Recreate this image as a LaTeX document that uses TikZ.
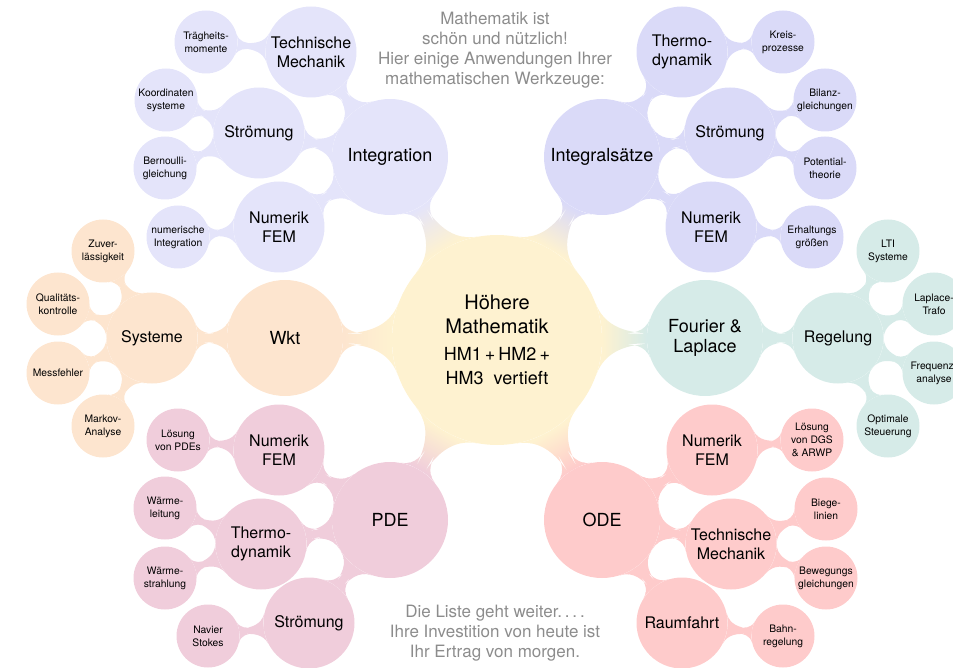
\documentclass[tikz,border=0pt]{standalone}
\usepackage{fontspec}
\setmainfont{TeX Gyre Heros}
\usepackage{tikz}
\usetikzlibrary{mindmap,backgrounds}

\definecolor{hmyellow}{RGB}{254,242,208}
\definecolor{intblue}{RGB}{228,228,250}
\definecolor{satzblue}{RGB}{218,218,248}
\definecolor{wktorange}{RGB}{253,229,207}
\definecolor{regteal}{RGB}{214,235,232}
\definecolor{pdepink}{RGB}{240,205,219}
\definecolor{odered}{RGB}{254,203,203}
\definecolor{notegray}{RGB}{140,140,140}

\tikzset{
  rootnode/.style={circle,fill=hmyellow,minimum size=210pt,inner sep=0pt,align=center,font=\fontsize{20}{24}\selectfont},
  topic/.style={circle,minimum size=116pt,inner sep=0pt,align=center,font=\fontsize{18}{20}\selectfont},
  subtopic/.style={circle,minimum size=91pt,inner sep=0pt,align=center,font=\fontsize{16}{19}\selectfont},
  leaf/.style={circle,minimum size=63pt,inner sep=0pt,align=center,font=\fontsize{10.3}{13}\selectfont},
  note/.style={text=notegray,align=center,font=\fontsize{17}{20}\selectfont},
  link/.style 2 args={circle connection bar switch color=from (#1) to (#2)}
}

\begin{document}
\begin{tikzpicture}[x=1pt,y=-1pt]
\useasboundingbox (0,0) rectangle (953,668);

% Mitte
\node[rootnode] (hm) at (497,340) {Höhere\\Mathematik\\[3pt]\fontsize{18}{20}\selectfont HM1\,+\,HM2\,+\\\fontsize{18}{20}\selectfont HM3\ \ vertieft};

% Hauptthemen
\node[topic,fill=intblue] (integ) at (390,157) {Integration};
\node[topic,fill=satzblue] (satz) at (602,157) {Integralsätze};
\node[topic,fill=wktorange] (wkt) at (285,338) {Wkt};
\node[topic,fill=regteal] (fourier) at (705,338) {Fourier \&\\Laplace};
\node[topic,fill=pdepink] (pde) at (390,520) {PDE};
\node[topic,fill=odered] (ode) at (602,520) {ODE};

% Integration
\node[subtopic,fill=intblue] (techmecha) at (311,52) {Technische\\Mechanik};
\node[subtopic,fill=intblue] (stroema) at (259,133) {Strömung};
\node[subtopic,fill=intblue] (numfema) at (279,227) {Numerik\\FEM};
\node[leaf,fill=intblue] (traeg) at (206,42) {Trägheits-\\momente};
\node[leaf,fill=intblue] (koord) at (166,100) {Koordinaten\\systeme};
\node[leaf,fill=intblue] (bern) at (165,168) {Bernoulli-\\gleichung};
\node[leaf,fill=intblue] (numint) at (178,237) {numerische\\Integration};

% Integralsaetze
\node[subtopic,fill=satzblue] (thermob) at (682,52) {Thermo-\\dynamik};
\node[subtopic,fill=satzblue] (stroemb) at (730,133) {Strömung};
\node[subtopic,fill=satzblue] (numfemb) at (711,227) {Numerik\\FEM};
\node[leaf,fill=satzblue] (kreis) at (783,42) {Kreis-\\prozesse};
\node[leaf,fill=satzblue] (bilanz) at (825,100) {Bilanz-\\gleichungen};
\node[leaf,fill=satzblue] (potential) at (825,168) {Potential-\\theorie};
\node[leaf,fill=satzblue] (erhalt) at (812,237) {Erhaltungs\\größen};

% Wkt
\node[subtopic,fill=wktorange] (systeme) at (152,338) {Systeme};
\node[leaf,fill=wktorange] (zuver) at (103,251) {Zuver-\\lässigkeit};
\node[leaf,fill=wktorange] (quali) at (58,304) {Qualitäts-\\kontrolle};
\node[leaf,fill=wktorange] (mess) at (58,373) {Messfehler};
\node[leaf,fill=wktorange] (markov) at (103,426) {Markov-\\Analyse};

% Fourier und Laplace
\node[subtopic,fill=regteal] (regel) at (838,338) {Regelung};
\node[leaf,fill=regteal] (lti) at (888,251) {LTI\\Systeme};
\node[leaf,fill=regteal] (lapl) at (934,304) {Laplace-\\Trafo};
\node[leaf,fill=regteal] (freq) at (934,373) {Frequenz-\\analyse};
\node[leaf,fill=regteal] (optst) at (888,426) {Optimale\\Steuerung};

% PDE
\node[subtopic,fill=pdepink] (numfemc) at (279,450) {Numerik\\FEM};
\node[subtopic,fill=pdepink] (thermoc) at (261,544) {Thermo-\\dynamik};
\node[subtopic,fill=pdepink] (stroemc) at (309,623) {Strömung};
\node[leaf,fill=pdepink] (loespde) at (178,440) {Lösung\\von PDEs};
\node[leaf,fill=pdepink] (waermel) at (165,508) {Wärme-\\leitung};
\node[leaf,fill=pdepink] (waermes) at (165,578) {Wärme-\\strahlung};
\node[leaf,fill=pdepink] (navier) at (208,636) {Navier\\Stokes};

% ODE
\node[subtopic,fill=odered] (numfemd) at (712,450) {Numerik\\FEM};
\node[subtopic,fill=odered] (techmechd) at (731,544) {Technische\\Mechanik};
\node[subtopic,fill=odered] (raum) at (682,623) {Raumfahrt};
\node[leaf,fill=odered] (loesdgs) at (812,440) {Lösung\\von DGS\\\& ARWP};
\node[leaf,fill=odered] (biege) at (826,509) {Biege-\\linien};
\node[leaf,fill=odered] (beweg) at (826,578) {Bewegungs\\gleichungen};
\node[leaf,fill=odered] (bahn) at (783,636) {Bahn-\\regelung};

% Texte
\node[note] (oben) at (495,50) {Mathematik ist\\schön und nützlich!\\Hier einige Anwendungen Ihrer\\mathematischen Werkzeuge:};
\node[note] (unten) at (495,633) {Die Liste geht weiter.\,.\,.\,.\\Ihre Investition von heute ist\\Ihr Ertrag von morgen.};

% Verbindungen
\begin{scope}[on background layer]
\path (hm) to[link={hmyellow}{intblue}] (integ);
\path (hm) to[link={hmyellow}{satzblue}] (satz);
\path (hm) to[link={hmyellow}{wktorange}] (wkt);
\path (hm) to[link={hmyellow}{regteal}] (fourier);
\path (hm) to[link={hmyellow}{pdepink}] (pde);
\path (hm) to[link={hmyellow}{odered}] (ode);

\path (integ) to[link={intblue}{intblue}] (techmecha);
\path (integ) to[link={intblue}{intblue}] (stroema);
\path (integ) to[link={intblue}{intblue}] (numfema);
\path (techmecha) to[link={intblue}{intblue}] (traeg);
\path (stroema) to[link={intblue}{intblue}] (koord);
\path (stroema) to[link={intblue}{intblue}] (bern);
\path (numfema) to[link={intblue}{intblue}] (numint);

\path (satz) to[link={satzblue}{satzblue}] (thermob);
\path (satz) to[link={satzblue}{satzblue}] (stroemb);
\path (satz) to[link={satzblue}{satzblue}] (numfemb);
\path (thermob) to[link={satzblue}{satzblue}] (kreis);
\path (stroemb) to[link={satzblue}{satzblue}] (bilanz);
\path (stroemb) to[link={satzblue}{satzblue}] (potential);
\path (numfemb) to[link={satzblue}{satzblue}] (erhalt);

\path (wkt) to[link={wktorange}{wktorange}] (systeme);
\path (systeme) to[link={wktorange}{wktorange}] (zuver);
\path (systeme) to[link={wktorange}{wktorange}] (quali);
\path (systeme) to[link={wktorange}{wktorange}] (mess);
\path (systeme) to[link={wktorange}{wktorange}] (markov);

\path (fourier) to[link={regteal}{regteal}] (regel);
\path (regel) to[link={regteal}{regteal}] (lti);
\path (regel) to[link={regteal}{regteal}] (lapl);
\path (regel) to[link={regteal}{regteal}] (freq);
\path (regel) to[link={regteal}{regteal}] (optst);

\path (pde) to[link={pdepink}{pdepink}] (numfemc);
\path (pde) to[link={pdepink}{pdepink}] (thermoc);
\path (pde) to[link={pdepink}{pdepink}] (stroemc);
\path (numfemc) to[link={pdepink}{pdepink}] (loespde);
\path (thermoc) to[link={pdepink}{pdepink}] (waermel);
\path (thermoc) to[link={pdepink}{pdepink}] (waermes);
\path (stroemc) to[link={pdepink}{pdepink}] (navier);

\path (ode) to[link={odered}{odered}] (numfemd);
\path (ode) to[link={odered}{odered}] (techmechd);
\path (ode) to[link={odered}{odered}] (raum);
\path (numfemd) to[link={odered}{odered}] (loesdgs);
\path (techmechd) to[link={odered}{odered}] (biege);
\path (techmechd) to[link={odered}{odered}] (beweg);
\path (raum) to[link={odered}{odered}] (bahn);
\end{scope}
\end{tikzpicture}
\end{document}
